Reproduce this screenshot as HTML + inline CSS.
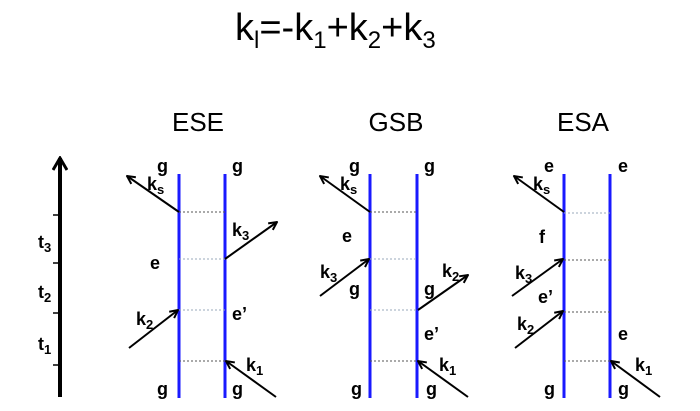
<!DOCTYPE html>
<html><head><style>html,body{margin:0;padding:0;background:#fff;}svg{display:block}</style></head>
<body>
<svg width="700" height="411" viewBox="0 0 700 411" xmlns="http://www.w3.org/2000/svg" font-family="Liberation Sans, sans-serif">
<defs>
<marker id="a" markerWidth="10" markerHeight="10" refX="9" refY="5" orient="auto" markerUnits="userSpaceOnUse">
<path d="M1,1 L9,5 L1,9" fill="none" stroke="#000" stroke-width="2"/>
</marker>
<marker id="b" markerWidth="16" markerHeight="16" refX="14" refY="8" orient="auto" markerUnits="userSpaceOnUse">
<path d="M2,1 L14,8 L2,15" fill="none" stroke="#000" stroke-width="3"/>
</marker>
</defs>
<text x="235" y="40" font-size="38">k<tspan font-size="24" dy="8">l</tspan><tspan dy="-8">=-k</tspan><tspan font-size="24" dy="8">1</tspan><tspan dy="-8">+k</tspan><tspan font-size="24" dy="8">2</tspan><tspan dy="-8">+k</tspan><tspan font-size="24" dy="8">3</tspan></text>
<g font-size="26" text-anchor="middle">
<text x="198" y="131">ESE</text><text x="396" y="131">GSB</text><text x="583" y="131">ESA</text>
</g>
<line x1="60" y1="397" x2="60" y2="158" stroke="#000" stroke-width="4" marker-end="url(#b)"/>
<g stroke="#000" stroke-width="1.5">
<line x1="53" y1="215" x2="60" y2="215"/><line x1="53" y1="263" x2="60" y2="263"/>
<line x1="53" y1="313" x2="60" y2="313"/><line x1="53" y1="365" x2="60" y2="365"/>
</g>
<g font-size="18" font-weight="bold">
<text x="38" y="248">t<tspan font-size="13" dy="4">3</tspan></text>
<text x="38" y="298">t<tspan font-size="13" dy="4">2</tspan></text>
<text x="38" y="350">t<tspan font-size="13" dy="4">1</tspan></text>
</g>
<g stroke="#1a1aff" stroke-width="3">
<line x1="179" y1="174" x2="179" y2="398"/><line x1="225" y1="174" x2="225" y2="398"/>
<line x1="370" y1="174" x2="370" y2="398"/><line x1="417" y1="174" x2="417" y2="398"/>
<line x1="564" y1="174" x2="564" y2="398"/><line x1="610" y1="174" x2="610" y2="398"/>
</g>
<g stroke="#555" stroke-width="1" stroke-dasharray="2,2">
<line x1="179" y1="212" x2="225" y2="212"/><line x1="179" y1="259" x2="225" y2="259" stroke="#9ab"/>
<line x1="179" y1="310" x2="225" y2="310" stroke="#9ab"/><line x1="179" y1="361" x2="225" y2="361"/>
<line x1="370" y1="212" x2="417" y2="212"/><line x1="370" y1="259" x2="417" y2="259" stroke="#9ab"/>
<line x1="370" y1="310" x2="417" y2="310" stroke="#9ab"/><line x1="370" y1="361" x2="417" y2="361"/>
<line x1="564" y1="213" x2="610" y2="213" stroke="#9ab"/><line x1="564" y1="260" x2="610" y2="260"/>
<line x1="564" y1="312" x2="610" y2="312"/><line x1="564" y1="361" x2="610" y2="361"/>
</g>
<g stroke="#000" stroke-width="2" marker-end="url(#a)">
<line x1="179" y1="212" x2="127" y2="176"/>
<line x1="225" y1="259" x2="277" y2="222"/>
<line x1="129" y1="348" x2="178" y2="310"/>
<line x1="276" y1="397" x2="226" y2="361"/>
<line x1="370" y1="212" x2="320" y2="176"/>
<line x1="320" y1="296" x2="369" y2="259"/>
<line x1="418" y1="310" x2="468" y2="275"/>
<line x1="468" y1="397" x2="418" y2="361"/>
<line x1="564" y1="212" x2="514" y2="176"/>
<line x1="512" y1="296" x2="563" y2="259"/>
<line x1="515" y1="348" x2="563" y2="311"/>
<line x1="660" y1="397" x2="611" y2="361"/>
</g>
<g font-size="18" font-weight="bold">
<text x="157" y="172">g</text><text x="232" y="172">g</text>
<text x="150" y="269">e</text><text x="232" y="320">e’</text>
<text x="157" y="395">g</text><text x="232" y="395">g</text>
<text x="147" y="190">k<tspan font-size="13" dy="4">s</tspan></text>
<text x="232" y="236">k<tspan font-size="13" dy="4">3</tspan></text>
<text x="136" y="325">k<tspan font-size="13" dy="4">2</tspan></text>
<text x="246" y="371">k<tspan font-size="13" dy="4">1</tspan></text>

<text x="349" y="172">g</text><text x="424" y="172">g</text>
<text x="342" y="242">e</text>
<text x="320" y="278">k<tspan font-size="13" dy="4">3</tspan></text>
<text x="349" y="295">g</text><text x="424" y="295">g</text>
<text x="442" y="277">k<tspan font-size="13" dy="4">2</tspan></text>
<text x="424" y="340">e’</text>
<text x="439" y="371">k<tspan font-size="13" dy="4">1</tspan></text>
<text x="351" y="395">g</text><text x="426" y="395">g</text>
<text x="340" y="190">k<tspan font-size="13" dy="4">s</tspan></text>

<text x="544" y="172">e</text><text x="618" y="172">e</text>
<text x="539" y="243">f</text>
<text x="515" y="279">k<tspan font-size="13" dy="4">3</tspan></text>
<text x="538" y="303">e’</text>
<text x="517" y="330">k<tspan font-size="13" dy="4">2</tspan></text>
<text x="618" y="340">e</text>
<text x="635" y="371">k<tspan font-size="13" dy="4">1</tspan></text>
<text x="544" y="395">g</text><text x="618" y="395">g</text>
<text x="533" y="190">k<tspan font-size="13" dy="4">s</tspan></text>
</g>
</svg>
</body></html>
